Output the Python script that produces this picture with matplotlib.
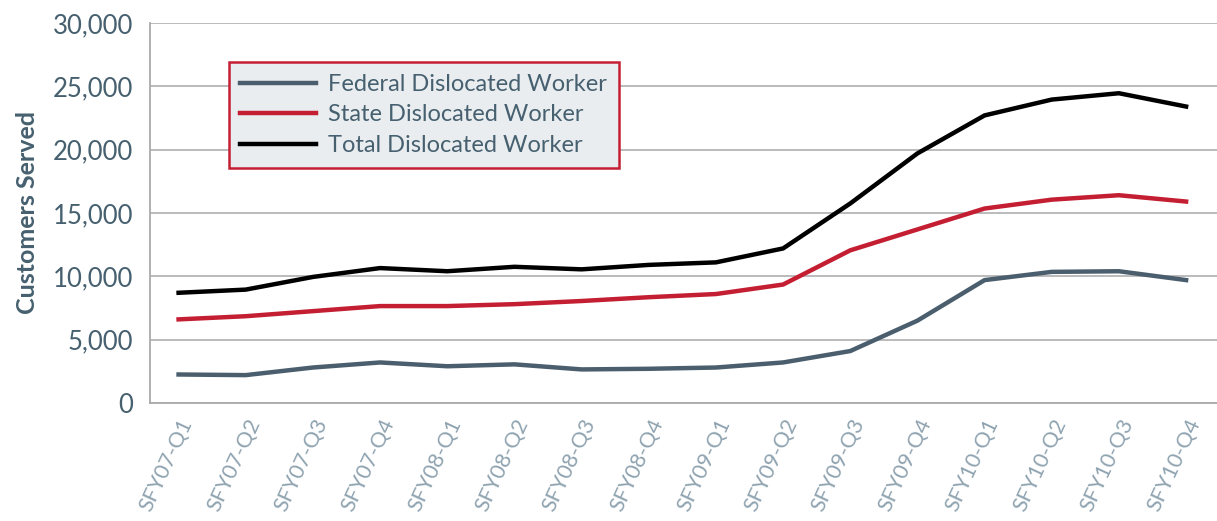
import matplotlib.pyplot as plt
from matplotlib.ticker import FuncFormatter

# Quarter labels on the x axis
quarters = ['SFY07-Q1', 'SFY07-Q2', 'SFY07-Q3', 'SFY07-Q4',
            'SFY08-Q1', 'SFY08-Q2', 'SFY08-Q3', 'SFY08-Q4',
            'SFY09-Q1', 'SFY09-Q2', 'SFY09-Q3', 'SFY09-Q4',
            'SFY10-Q1', 'SFY10-Q2', 'SFY10-Q3', 'SFY10-Q4']

# Customers served
federal = [2250, 2200, 2800, 3200, 2900, 3050, 2650, 2700,
           2800, 3200, 4100, 6500, 9700, 10350, 10400, 9700]
state = [6600, 6850, 7250, 7650, 7650, 7800, 8050, 8350,
         8600, 9350, 12050, 13700, 15350, 16050, 16400, 15900]
total = [8700, 8950, 9950, 10650, 10400, 10750, 10550, 10900,
         11100, 12200, 15750, 19700, 22700, 23950, 24450, 23400]

text_col = '#46606f'
tick_col = '#8fa3b0'

plt.rcParams['font.family'] = ['Lato', 'DejaVu Sans']

fig = plt.figure(figsize=(12.17, 5.21), dpi=100)
ax = fig.add_axes([0.123, 0.2265, 0.877, 0.7295])

x = range(len(quarters))
ax.plot(x, federal, color='#4a5e6d', lw=3.2, label='Federal Dislocated Worker', solid_joinstyle='miter')
ax.plot(x, state, color='#c41e32', lw=3.2, label='State Dislocated Worker', solid_joinstyle='miter')
ax.plot(x, total, color='black', lw=3.2, label='Total Dislocated Worker', solid_joinstyle='miter')

ax.set_ylim(0, 30000)
ax.set_xlim(-0.43, 15.46)
ax.set_yticks(range(0, 30001, 5000))
ax.yaxis.set_major_formatter(FuncFormatter(lambda v, p: f'{int(v):,}'))
ax.grid(axis='y', color='#b5b5b5', lw=1.3)
ax.set_axisbelow(True)

for s in ['top', 'right']:
    ax.spines[s].set_visible(False)
for s in ['left', 'bottom']:
    ax.spines[s].set_color('#aaaaaa')
    ax.spines[s].set_linewidth(1.3)

ax.tick_params(axis='both', length=0)
ax.tick_params(axis='y', labelsize=18.5, labelcolor=text_col, pad=12)
ax.set_xticks(list(x))
ax.set_xticklabels(quarters, rotation=65, ha='right', va='top',
                   rotation_mode='anchor', fontsize=15.5, color=tick_col)
ax.tick_params(axis='x', pad=9)

ax.set_ylabel('Customers Served', fontsize=18, fontweight='bold', color=text_col, labelpad=10)

leg = ax.legend(loc='upper left', bbox_to_anchor=(0.074, 0.897), fontsize=17,
                frameon=True, fancybox=False, handlelength=3.2, handletextpad=0.5,
                labelspacing=0.4, borderpad=0.5, borderaxespad=0)
leg.get_frame().set_facecolor('#e9edf0')
leg.get_frame().set_edgecolor('#c41e32')
leg.get_frame().set_linewidth(1.8)
leg.get_frame().set_alpha(1)
for t in leg.get_texts():
    t.set_color(text_col)

fig.savefig('out.png', dpi=100)
